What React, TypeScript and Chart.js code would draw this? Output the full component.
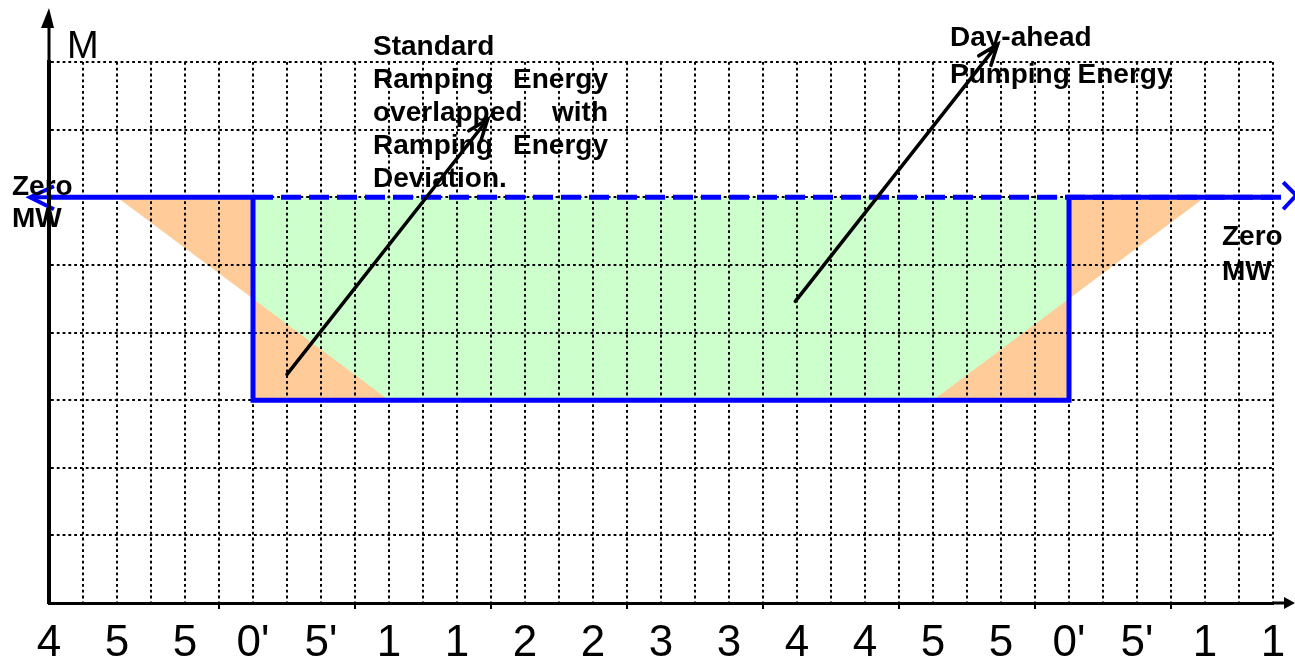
import React, { useEffect, useRef } from 'react';
import { Chart, registerables } from 'chart.js';

Chart.register(...registerables);

// ---------- data ----------
const X_TICK_LABELS = ['4', '5', '5', "0'", "5'", '1', '1', '2', '2', '3', '3', '4', '4', '5', '5', "0'", "5'", '1', '1'];
const MAJOR_TICKS = [5, 9, 13, 17, 21, 25, 29, 33];

// actual pumping schedule (solid blue step)
const PUMP_X = [0, 6, 6, 30, 30, 36];
const PUMP_Y = [0, 0, -3, -3, 0, 0];

// day-ahead zero reference (dashed blue)
const DA_ZERO_X = [6, 36.3];
const DA_ZERO_Y = [0, 0];

// day-ahead pumping energy block (green)
const DA_ENERGY_X = [6, 30, 30, 6];
const DA_ENERGY_Y = [0, 0, -3, -3];

// standard ramping energy deviation (orange triangles)
const RAMP_IN_X = [2, 6, 6, 10];
const RAMP_IN_Y = [0, 0, -3, -3];
const RAMP_OUT_X = [26, 30, 30, 34];
const RAMP_OUT_Y = [-3, -3, 0, 0];

// annotation arrows (data units)
const ARROW_FROM_X = [7.0, 21.95];
const ARROW_FROM_Y = [-2.62, -1.54];
const ARROW_TO_X = [12.9, 27.9];
const ARROW_TO_Y = [1.15, 2.26];

const FONT = '"Liberation Sans", Arial, Helvetica, sans-serif';

const TEXT_BLOCKS = [
  {
    lines: ['Standard', 'Ramping Energy', 'overlapped with', 'Ramping Energy', 'Deviation.'],
    justify: [false, true, true, true, false],
    x: 373, y: 55, lh: 33, width: 235,
  },
  { lines: ['Day-ahead', 'Pumping Energy'], justify: [false, false], x: 950, y: 46, lh: 37, width: 0 },
  { lines: ['Zero', 'MW'], justify: [false, false], x: 12, y: 195, lh: 32, width: 0 },
  { lines: ['Zero', 'MW'], justify: [false, false], x: 1222, y: 245, lh: 35, width: 0 },
];

const TOP_LAYER = ['Pumping', 'Day-ahead zero'];

const pts = (xs: number[], ys: number[]) => xs.map((x, i) => ({ x, y: ys[i] }));

function drawArrow(ctx: CanvasRenderingContext2D, x1: number, y1: number, x2: number, y2: number) {
  const head = 22;
  const ang = 0.36;
  ctx.beginPath();
  ctx.moveTo(x1, y1);
  ctx.lineTo(x2, y2);
  ctx.stroke();
  const a = Math.atan2(y2 - y1, x2 - x1);
  ctx.beginPath();
  ctx.moveTo(x2 - head * Math.cos(a - ang), y2 - head * Math.sin(a - ang));
  ctx.lineTo(x2, y2);
  ctx.lineTo(x2 - head * Math.cos(a + ang), y2 - head * Math.sin(a + ang));
  ctx.stroke();
}

function drawJustified(ctx: CanvasRenderingContext2D, text: string, x: number, y: number, width: number) {
  const words = text.split(' ');
  if (words.length < 2 || !width) {
    ctx.fillText(text, x, y);
    return;
  }
  const widths = words.map((w) => ctx.measureText(w).width);
  const total = widths.reduce((a, b) => a + b, 0);
  const gap = (width - total) / (words.length - 1);
  let cx = x;
  words.forEach((w, i) => {
    ctx.fillText(w, cx, y);
    cx += widths[i] + gap;
  });
}

const overlayPlugin = {
  id: 'overlay',
  beforeDatasetDraw(chart: any, args: any) {
    const ds = chart.data.datasets[args.index];
    if (TOP_LAYER.includes(ds.label)) return false;
    return true;
  },
  afterDraw(chart: any) {
    const { ctx, chartArea, scales } = chart;
    const xs = scales.x;
    const ys = scales.y;
    const px = (v: number) => xs.getPixelForValue(v);
    const py = (v: number) => ys.getPixelForValue(v);

    // blue lines above the grid
    TOP_LAYER.forEach((label) => {
      const idx = chart.data.datasets.findIndex((d: any) => d.label === label);
      if (idx >= 0) {
        const meta = chart.getDatasetMeta(idx);
        if (meta.dataset) meta.dataset.draw(ctx, chartArea);
      }
    });

    // zero-MW arrow heads
    const y0 = py(0);
    ctx.save();
    ctx.strokeStyle = '#0000FF';
    ctx.lineWidth = 4;
    ctx.lineJoin = 'miter';
    const lx = px(PUMP_X[0]);
    ctx.beginPath();
    ctx.moveTo(lx, y0);
    ctx.lineTo(lx - 19, y0);
    ctx.stroke();
    ctx.beginPath();
    ctx.moveTo(lx + 5, y0 - 11);
    ctx.lineTo(lx - 19, y0);
    ctx.lineTo(lx + 5, y0 + 12);
    ctx.stroke();
    const rx = px(DA_ZERO_X[DA_ZERO_X.length - 1]);
    ctx.beginPath();
    ctx.moveTo(rx, y0 - 15);
    ctx.lineTo(rx + 13, y0 - 2);
    ctx.lineTo(rx, y0 + 12);
    ctx.stroke();
    ctx.restore();

    // y axis on top again, with extension and arrow
    ys.drawBorder();
    ctx.save();
    ctx.fillStyle = '#000';
    ctx.strokeStyle = '#000';
    ctx.lineWidth = 3;
    const ax = chartArea.left;
    ctx.beginPath();
    ctx.moveTo(ax, chartArea.top + 2);
    ctx.lineTo(ax, chartArea.top - 34);
    ctx.stroke();
    ctx.beginPath();
    ctx.moveTo(ax, chartArea.top - 54);
    ctx.lineTo(ax - 8, chartArea.top - 34);
    ctx.lineTo(ax + 5, chartArea.top - 34);
    ctx.closePath();
    ctx.fill();

    // x axis extension and arrow
    const by = chartArea.bottom;
    ctx.beginPath();
    ctx.moveTo(chartArea.right, by);
    ctx.lineTo(chart.width - 8, by);
    ctx.stroke();
    ctx.beginPath();
    ctx.moveTo(chart.width, by);
    ctx.lineTo(chart.width - 11, by - 6);
    ctx.lineTo(chart.width - 11, by + 6);
    ctx.closePath();
    ctx.fill();

    // black annotation arrows
    ctx.lineWidth = 3.5;
    ctx.lineCap = 'round';
    for (let i = 0; i < ARROW_FROM_X.length; i++) {
      drawArrow(ctx, px(ARROW_FROM_X[i]), py(ARROW_FROM_Y[i]), px(ARROW_TO_X[i]), py(ARROW_TO_Y[i]));
    }

    // texts
    ctx.textBaseline = 'alphabetic';
    ctx.textAlign = 'left';
    ctx.font = `bold 28px ${FONT}`;
    TEXT_BLOCKS.forEach((b) => {
      b.lines.forEach((line, i) => {
        const yy = b.y + i * b.lh;
        if (b.justify[i]) drawJustified(ctx, line, b.x, yy, b.width);
        else ctx.fillText(line, b.x, yy);
      });
    });
    ctx.font = `38px ${FONT}`;
    ctx.fillText('M', 67, 58);
    ctx.restore();
  },
};

export default function App() {
  const ref = useRef<HTMLCanvasElement>(null);

  useEffect(() => {
    if (!ref.current) return;
    const chart = new Chart(ref.current, {
      type: 'line',
      data: {
        datasets: [
          {
            label: 'Day-ahead pumping energy',
            data: pts(DA_ENERGY_X, DA_ENERGY_Y),
            fill: 'shape',
            backgroundColor: '#CCFFCC',
            borderWidth: 0,
            pointRadius: 0,
            order: 5,
          },
          {
            label: 'Ramping in',
            data: pts(RAMP_IN_X, RAMP_IN_Y),
            fill: 'shape',
            backgroundColor: '#FFCC99',
            borderWidth: 0,
            pointRadius: 0,
            order: 4,
          },
          {
            label: 'Ramping out',
            data: pts(RAMP_OUT_X, RAMP_OUT_Y),
            fill: 'shape',
            backgroundColor: '#FFCC99',
            borderWidth: 0,
            pointRadius: 0,
            order: 4,
          },
          {
            label: 'Day-ahead zero',
            data: pts(DA_ZERO_X, DA_ZERO_Y),
            borderColor: '#0000FF',
            borderWidth: 5,
            borderDash: [20, 8],
            fill: false,
            pointRadius: 0,
            order: 2,
          },
          {
            label: 'Pumping',
            data: pts(PUMP_X, PUMP_Y),
            borderColor: '#0000FF',
            borderWidth: 5,
            borderJoinStyle: 'miter',
            fill: false,
            pointRadius: 0,
            order: 1,
          },
        ] as any,
      },
      options: {
        animation: false,
        responsive: false,
        devicePixelRatio: 1,
        events: [],
        layout: { padding: { left: 49, right: 22, top: 62, bottom: 0 }, autoPadding: false },
        plugins: { legend: { display: false }, tooltip: { enabled: false }, title: { display: false } },
        scales: {
          x: {
            type: 'linear',
            min: 0,
            max: 36,
            afterFit: (s: any) => {
              s.height = 54;
            },
            ticks: {
              stepSize: 1,
              autoSkip: false,
              maxRotation: 0,
              minRotation: 0,
              padding: 8,
              color: '#000',
              font: { family: FONT, size: 44, lineHeight: 1.2 },
              callback: (v: any) => {
                const n = Number(v);
                return n % 2 === 0 ? X_TICK_LABELS[n / 2] : '';
              },
            },
            grid: {
              color: '#000',
              lineWidth: 2,
              z: 1,
              drawTicks: true,
              tickLength: 6,
              tickColor: '#000',
              tickBorderDash: [],
              tickWidth: (c: any) => (c.tick && MAJOR_TICKS.includes(c.tick.value) ? 2 : 0),
            },
            border: { display: true, color: '#000', width: 3, dash: [2.8, 3], z: 1 },
          } as any,
          y: {
            type: 'linear',
            min: -6,
            max: 2,
            afterFit: (s: any) => {
              s.width = 0;
            },
            ticks: { display: false, stepSize: 1 },
            grid: { color: '#000', lineWidth: 2, z: 1, drawTicks: false },
            border: { display: true, color: '#000', width: 4, dash: [2.8, 3], z: 2 },
          } as any,
        },
      },
      plugins: [overlayPlugin as any],
    });
    return () => chart.destroy();
  }, []);

  return (
    <div style={{ position: 'absolute', left: 0, top: 0, width: 1295, height: 657, background: '#fff' }}>
      <canvas ref={ref} width={1295} height={657} style={{ display: 'block', width: 1295, height: 657 }} />
    </div>
  );
}
